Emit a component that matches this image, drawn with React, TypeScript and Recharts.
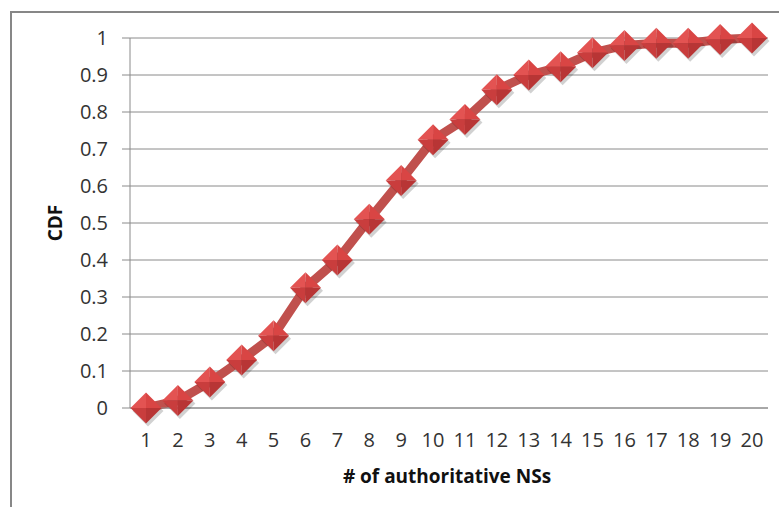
import React from "react";
import { LineChart, Line, XAxis, YAxis, CartesianGrid, Label } from "recharts";

const categories = ["1","2","3","4","5","6","7","8","9","10","11","12","13","14","15","16","17","18","19","20"];
const cdfValues = [0, 0.02, 0.07, 0.13, 0.195, 0.325, 0.4, 0.51, 0.615, 0.725, 0.78, 0.86, 0.9, 0.922, 0.96, 0.98, 0.986, 0.986, 0.996, 1.0];
const yTicks = [0, 0.1, 0.2, 0.3, 0.4, 0.5, 0.6, 0.7, 0.8, 0.9, 1];

const data = categories.map((c, i) => ({ name: c, cdf: cdfValues[i] }));

const FONT = "'Open Sans', 'Liberation Sans', sans-serif";

const Diamond = (props: any) => {
  const { cx, cy, index } = props;
  if (cx == null || cy == null) return null;
  const r = 15.5;
  const t = `${cx},${cy - r}`;
  const b = `${cx},${cy + r}`;
  const l = `${cx - r},${cy}`;
  const rr = `${cx + r},${cy}`;
  const c = `${cx},${cy}`;
  return (
    <g key={`d-${index}`}>
      <polygon points={`${cx + 2},${cy - r + 3} ${cx + r + 2},${cy + 3} ${cx + 2},${cy + r + 3} ${cx - r + 2},${cy + 3}`} fill="#000" opacity={0.18} />
      <polygon points={`${t} ${c} ${l}`} fill="#e35352" />
      <polygon points={`${t} ${rr} ${c}`} fill="#d94544" />
      <polygon points={`${l} ${c} ${b}`} fill="#c93d3d" />
      <polygon points={`${c} ${rr} ${b}`} fill="#b83535" />
    </g>
  );
};

export default function App() {
  return (
    <div style={{ position: "absolute", left: 0, top: 0, width: 779, height: 507, overflow: "hidden", background: "#fff" }}>
      <div style={{ position: "absolute", left: 10, top: 11, width: 800, height: 520, border: "2px solid #878787", boxSizing: "border-box" }} />
      <div style={{ position: "absolute", left: 0, top: 0 }}>
        <LineChart width={779} height={507} data={data} margin={{ top: 38, right: 11, left: 0, bottom: 0 }}>
          <CartesianGrid vertical={false} stroke="#8a8a8a" strokeWidth={1} />
          <XAxis
            dataKey="name"
            height={99}
            padding={{ left: 16, right: 16 }}
            axisLine={{ stroke: "#8a8a8a" }}
            tickLine={false}
            tickSize={0}
            tickMargin={25}
            interval={0}
            tick={{ fill: "#333", fontSize: 20, fontFamily: FONT }}
          >
            <Label
              content={(p: any) => {
                const vb = p.viewBox || {};
                return (
                  <text x={vb.x + vb.width / 2 - 2} y={vb.y + 75} textAnchor="middle" fontFamily={FONT} fontWeight="bold" fontSize={19} fill="#111">
                    # of authoritative NSs
                  </text>
                );
              }}
            />
          </XAxis>
          <YAxis
            width={130}
            domain={[0, 1]}
            ticks={yTicks}
            interval={0}
            axisLine={{ stroke: "#8a8a8a" }}
            tickLine={{ stroke: "#8a8a8a" }}
            tickSize={8}
            tickMargin={14}
            tickFormatter={(v: number) => String(Math.round(v * 10) / 10)}
            tick={{ fill: "#333", fontSize: 20, fontFamily: FONT }}
          >
            <Label
              content={() => (
                <text x={62} y={223} transform="rotate(-90, 62, 223)" textAnchor="middle" fontFamily={FONT} fontWeight="bold" fontSize={19} fill="#111">
                  CDF
                </text>
              )}
            />
          </YAxis>
          <Line
            type="linear"
            dataKey="cdf"
            stroke="#c0504d"
            strokeWidth={9}
            strokeLinejoin="round"
            dot={<Diamond />}
            activeDot={false}
            isAnimationActive={false}
          />
        </LineChart>
      </div>
    </div>
  );
}
